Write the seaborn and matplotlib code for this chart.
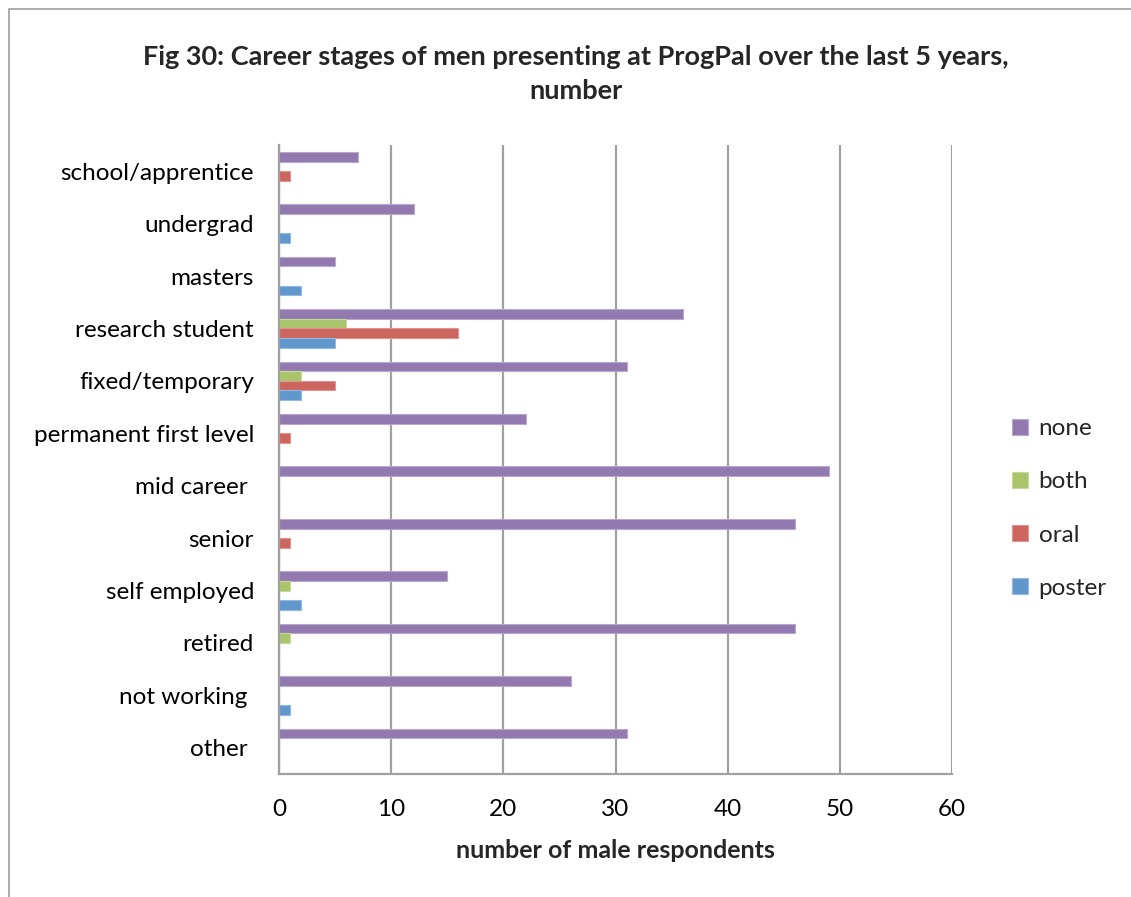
import matplotlib
matplotlib.use("Agg")
import matplotlib.pyplot as plt
import matplotlib.patches as mpatches
import seaborn as sns
import pandas as pd
import numpy as np

stages = ["school/apprentice", "undergrad", "masters", "research student",
          "fixed/temporary", "permanent first level", "mid career ", "senior",
          "self employed", "retired", "not working ", "other "]
none_vals = [7, 12, 5, 36, 31, 22, 49, 46, 15, 46, 26, 31]
both_vals = [0, 0, 0, 6, 2, 0, 0, 0, 1, 1, 0, 0]
oral_vals = [1, 0, 0, 16, 5, 1, 0, 1, 0, 0, 0, 0]
poster_vals = [0, 1, 2, 5, 2, 0, 0, 0, 2, 0, 1, 0]
series = ["none", "both", "oral", "poster"]
colors = ["#9279B0", "#AAC46C", "#CD655F", "#6098CE"]
edge_colors = ["#B9A8CC", "#C6D89A", "#E0948F", "#93B8DE"]
xticks = [0, 10, 20, 30, 40, 50, 60]

rows = []
for s, vals in zip(series, [none_vals, both_vals, oral_vals, poster_vals]):
    for st, v in zip(stages, vals):
        rows.append({"stage": st, "type": s, "value": v})
df = pd.DataFrame(rows)

sns.set_style("white")
plt.rcParams["font.family"] = ["Lato", "DejaVu Sans"]

fig = plt.figure(figsize=(11.31, 8.97), dpi=100)
ax = fig.add_axes([279 / 1131, 1 - 774 / 897, (952 - 279) / 1131, (774 - 145) / 897])

sns.barplot(data=df, x="value", y="stage", hue="type", hue_order=series,
            order=stages, orient="h", palette=colors, width=0.733,
            legend=False, ax=ax, errorbar=None, saturation=1)

for i, cont in enumerate(ax.containers):
    for p in cont:
        p.set_edgecolor(edge_colors[i])
        p.set_linewidth(0.8)

ax.set_xlim(0, 60)
ax.set_xticks(xticks)
ax.set_xticklabels([str(t) for t in xticks])
ax.set_ylim(len(stages) - 0.5, -0.5)
ax.set_ylabel("")
ax.set_xlabel("number of male respondents", fontsize=18, fontweight="bold", labelpad=14)

ax.xaxis.grid(True, color="#A0A0A0", linewidth=1.6)
ax.yaxis.grid(False)
ax.set_axisbelow(True)
for side in ["top", "right"]:
    ax.spines[side].set_visible(False)
for side in ["left", "bottom"]:
    ax.spines[side].set_color("#A0A0A0")
    ax.spines[side].set_linewidth(1.6)

ax.tick_params(axis="x", direction="out", length=7, width=1.6, color="#A0A0A0",
               labelsize=17.5, pad=11, labelcolor="black")
ax.tick_params(axis="y", which="major", length=0, labelsize=17.5, pad=18, labelcolor="black")
ax.set_yticks(np.arange(-0.5, len(stages), 1), minor=True)
ax.tick_params(axis="y", which="minor", direction="out", length=7, width=1.6, color="#A0A0A0")

fig.text(0.509, 1 - 74 / 897, "Fig 30: Career stages of men presenting at ProgPal over the last 5 years,\nnumber",
         ha="center", va="center", fontsize=19.5, fontweight="bold", linespacing=1.46)

handles = [mpatches.Patch(facecolor=c, edgecolor=e, linewidth=0.8, label=s)
           for s, c, e in zip(series, colors, edge_colors)]
fig.legend(handles=handles, loc="center left", bbox_to_anchor=(1012 / 1131, 1 - 508.5 / 897),
           frameon=False, fontsize=17.5, handlelength=0.65, handleheight=0.65,
           handletextpad=0.45, labelspacing=1.32, borderaxespad=0, borderpad=0)

fig.patches.append(mpatches.Rectangle((9 / 1131, -0.1), 1.2, 1 - 9 / 897 + 0.1,
                                      transform=fig.transFigure, fill=False,
                                      edgecolor="#A0A0A0", linewidth=1.2))

fig.savefig("out.png", dpi=100)
